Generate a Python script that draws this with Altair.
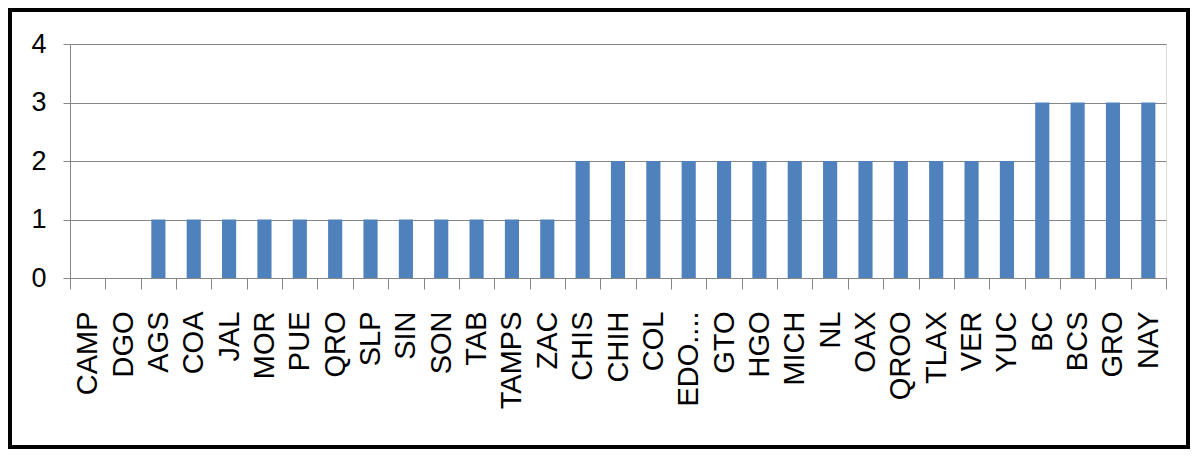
import altair as alt
import pandas as pd

states = ["CAMP", "DGO", "AGS", "COA", "JAL", "MOR", "PUE", "QRO", "SLP", "SIN",
          "SON", "TAB", "TAMPS", "ZAC", "CHIS", "CHIH", "COL", "EDO....", "GTO", "HGO",
          "MICH", "NL", "OAX", "QROO", "TLAX", "VER", "YUC", "BC", "BCS", "GRO", "NAY"]
values = [0, 0, 1, 1, 1, 1, 1, 1, 1, 1,
          1, 1, 1, 1, 2, 2, 2, 2, 2, 2,
          2, 2, 2, 2, 2, 2, 2, 3, 3, 3, 3]
y_ticks = [0, 1, 2, 3, 4]

df = pd.DataFrame({"state": states, "value": values})

W, H = 1096, 234
PAD_L, PAD_T = 62, 36
TOTAL_W, TOTAL_H = 1182, 441

bars = alt.Chart(df).mark_bar(color="#4F81BD", width={"band": 0.4}).encode(
    x=alt.X("state:N", sort=states,
            scale=alt.Scale(paddingInner=0, paddingOuter=0),
            axis=alt.Axis(title=None, labelAngle=-90, labelFontSize=29,
                          labelFont="Liberation Sans", labelColor="#000000",
                          labelPadding=22, tickSize=11, tickColor="#868686",
                          domainColor="#868686", tickBand="extent",
                          grid=False, labelOverlap=False)),
    y=alt.Y("value:Q", scale=alt.Scale(domain=[0, 4], nice=False),
            axis=alt.Axis(title=None, values=y_ticks, format="d",
                          labelFontSize=27,
                          labelFont="Liberation Sans Narrow, Liberation Sans",
                          labelColor="#000000", labelPadding=17, tickSize=7,
                          tickColor="#868686", domainColor="#868686",
                          grid=True, gridColor="#868686", gridWidth=1)),
)

frame = alt.Chart(pd.DataFrame({"a": [0]})).mark_rect(
    fill=None, stroke="#000000", strokeWidth=4
).encode(
    x=alt.value(-PAD_L + 2), x2=alt.value(TOTAL_W - PAD_L - 2),
    y=alt.value(-PAD_T + 2), y2=alt.value(TOTAL_H - PAD_T - 2),
)

chart = alt.layer(bars, frame).properties(
    width=W, height=H,
    autosize=alt.AutoSizeParams(type="none"),
    padding={"left": PAD_L, "top": PAD_T,
             "right": TOTAL_W - PAD_L - W, "bottom": TOTAL_H - PAD_T - H},
).configure_view(stroke=None).configure(background="#ffffff")

chart.save("out.html", embed_options={"renderer": "svg", "actions": False})
